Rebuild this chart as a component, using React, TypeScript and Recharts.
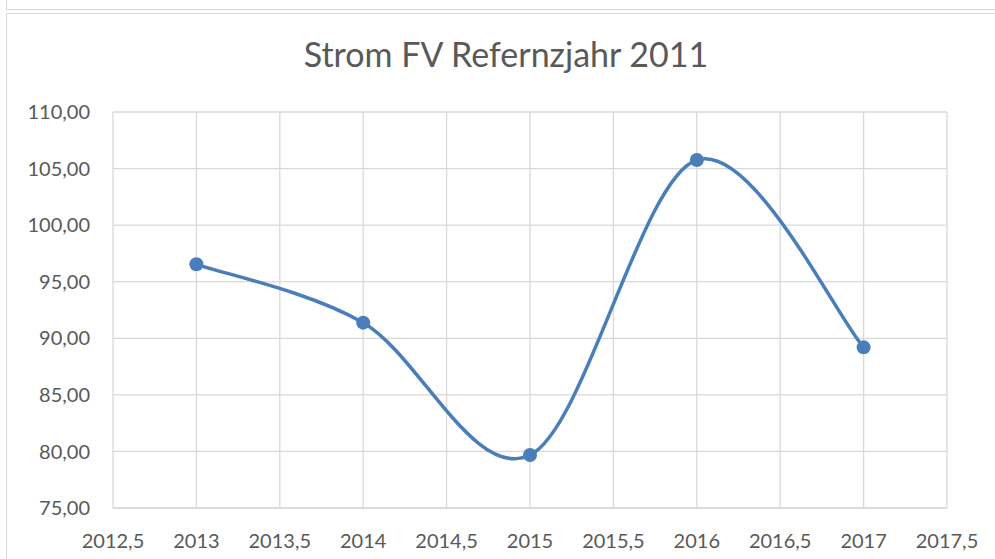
import { LineChart, Line, XAxis, YAxis, CartesianGrid } from 'recharts'

const years = [2013, 2014, 2015, 2016, 2017]
const values = [96.54, 91.38, 79.68, 105.76, 89.2]
const xTicks = [2012.5, 2013, 2013.5, 2014, 2014.5, 2015, 2015.5, 2016, 2016.5, 2017, 2017.5]
const yTicks = [75, 80, 85, 90, 95, 100, 105, 110]
const title = 'Strom FV Refernzjahr 2011'

const data = years.map((year, i) => ({ year, value: values[i] }))

const grey = '#d9d9d9'
const text = '#595959'
const blue = '#4a7ebb'
const font = 'Lato, "Open Sans", sans-serif'

// smoothed line like Excel (Catmull-Rom as cubic beziers)
function smoothCurve(context: any) {
  let pts: number[][] = []
  return {
    areaStart() {},
    areaEnd() {},
    lineStart() {
      pts = []
    },
    point(x: number, y: number) {
      pts.push([+x, +y])
    },
    lineEnd() {
      if (!pts.length) return
      context.moveTo(pts[0][0], pts[0][1])
      for (let i = 0; i < pts.length - 1; i++) {
        const p0 = pts[i - 1] ?? pts[i]
        const p1 = pts[i]
        const p2 = pts[i + 1]
        const p3 = pts[i + 2] ?? p2
        context.bezierCurveTo(
          p1[0] + (p2[0] - p0[0]) / 6,
          p1[1] + (p2[1] - p0[1]) / 6,
          p2[0] - (p3[0] - p1[0]) / 6,
          p2[1] - (p3[1] - p1[1]) / 6,
          p2[0],
          p2[1]
        )
      }
    },
  }
}

const fmt = (v: number, digits: number) => v.toFixed(digits).replace('.', ',')

export default function App() {
  return (
    <div style={{ position: 'absolute', left: 0, top: 0, width: 995, height: 559, background: '#fff', overflow: 'hidden' }}>
      {/* frame of the sheet / chart box */}
      <div style={{ position: 'absolute', left: 6, top: -10, width: 1100, height: 19, border: `1px solid ${grey}`, borderTop: 'none' }} />
      <div style={{ position: 'absolute', left: 6, top: 13, width: 1100, height: 600, border: `1px solid ${grey}` }} />
      <div
        style={{
          position: 'absolute',
          left: 6,
          width: 1000,
          top: 33,
          textAlign: 'center',
          fontFamily: font,
          fontSize: 34,
          lineHeight: 'normal',
          color: text,
        }}
      >
        {title}
      </div>
      <LineChart
        width={995}
        height={559}
        data={data}
        margin={{ top: 112, right: 48, bottom: 0, left: 0 }}
        style={{ position: 'absolute', left: 0, top: 0 }}
      >
        <CartesianGrid stroke={grey} strokeWidth={1.3} />
        <XAxis
          dataKey="year"
          type="number"
          domain={[2012.5, 2017.5]}
          ticks={xTicks}
          tickFormatter={(v) => fmt(v, v % 1 ? 1 : 0)}
          height={51}
          tickSize={0}
          tickMargin={26}
          axisLine={{ stroke: grey, strokeWidth: 1.3 }}
          tick={{ fill: text, fontSize: 20, fontFamily: font }}
          interval={0}
        />
        <YAxis
          type="number"
          domain={[75, 110]}
          ticks={yTicks}
          tickFormatter={(v) => fmt(v, 2)}
          width={113}
          tickSize={0}
          tickMargin={23}
          axisLine={false}
          tick={{ fill: text, fontSize: 20, fontFamily: font }}
          interval={0}
        />
        <Line
          dataKey="value"
          type={smoothCurve as any}
          stroke={blue}
          strokeWidth={3.5}
          dot={{ r: 7, fill: blue, stroke: 'none' }}
          activeDot={false}
          isAnimationActive={false}
        />
      </LineChart>
    </div>
  )
}
